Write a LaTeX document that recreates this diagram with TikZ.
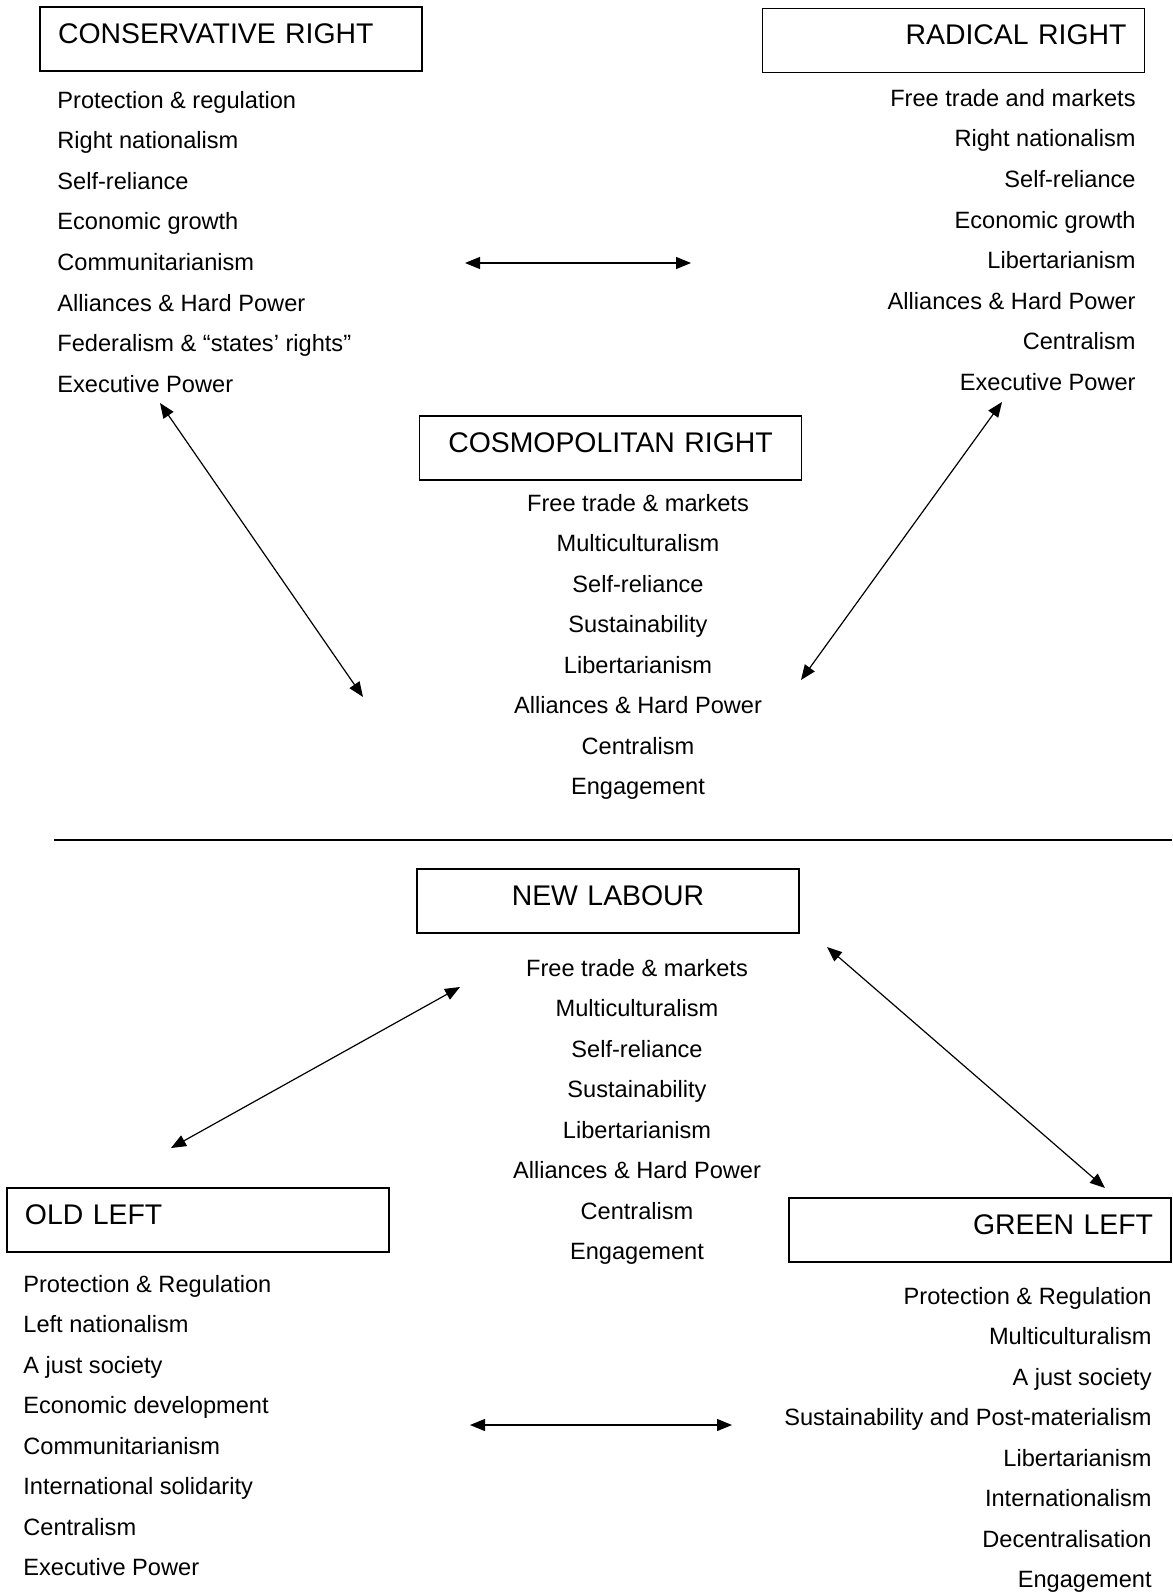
\documentclass[tikz,border=0pt]{standalone}
\usepackage{fontspec}
\setmainfont{Liberation Sans}
\usetikzlibrary{arrows.meta}
\tikzset{
  partybox/.style={draw, line width=0.75pt, minimum width=191pt, minimum height=32pt, inner xsep=9pt, text width=173pt, text height=10pt, text depth=5.5pt, font=\fontsize{14.2}{17}\selectfont},
  item/.style={inner sep=0pt, font=\fontsize{11.8}{14}\selectfont},
  link/.style={line width=0.6pt, >={Triangle[length=7.5pt,width=6pt]}, <->}
}

\begin{document}
\begin{tikzpicture}[x=0.5pt,y=-0.5pt]
        \useasboundingbox (0,0) rectangle (1172,1594);

        % boxes, top half
        \node[partybox, align=left] (cr) at (231,39) {CONSERVATIVE RIGHT};
        \node[partybox, align=right] (rr) at (953.5,40.5) {RADICAL RIGHT};
        \node[partybox, align=center] (cosmo) at (610.5,448) {COSMOPOLITAN RIGHT};

        % boxes, bottom half
        \node[partybox, align=center] (nl) at (608,901) {NEW LABOUR};
        \node[partybox, align=left] (ol) at (198,1220) {OLD LEFT};
        \node[partybox, align=right] (gl) at (980,1230) {GREEN LEFT};

        % lists
        \foreach \t [count=\i from 0] in {Protection \& regulation, Right nationalism, Self-reliance, Economic growth, Communitarianism, Alliances \& Hard Power, Federalism \& “states’ rights”, Executive Power}
            \node[item, anchor=base west] (cr\i) at (57, 108.5+40.5*\i) {\t};
        \foreach \t [count=\i from 0] in {Free trade and markets, Right nationalism, Self-reliance, Economic growth, Libertarianism, Alliances \& Hard Power, Centralism, Executive Power}
            \node[item, anchor=base east] (rr\i) at (1136, 106.5+40.5*\i) {\t};
        \foreach \t [count=\i from 0] in {Free trade \& markets, Multiculturalism, Self-reliance, Sustainability, Libertarianism, Alliances \& Hard Power, Centralism, Engagement}
            \node[item, anchor=base] (cosmo\i) at (638, 511+40.5*\i) {\t};
        \foreach \t [count=\i from 0] in {Free trade \& markets, Multiculturalism, Self-reliance, Sustainability, Libertarianism, Alliances \& Hard Power, Centralism, Engagement}
            \node[item, anchor=base] (nl\i) at (637, 976+40.5*\i) {\t};
        \foreach \t [count=\i from 0] in {Protection \& Regulation, Left nationalism, A just society, Economic development, Communitarianism, International solidarity, Centralism, Executive Power}
            \node[item, anchor=base west] (ol\i) at (23, 1292+40.5*\i) {\t};
        \foreach \t [count=\i from 0] in {Protection \& Regulation, Multiculturalism, A just society, Sustainability and Post-materialism, Libertarianism, Internationalism, Decentralisation, Engagement}
            \node[item, anchor=base east] (gl\i) at (1152, 1304+40.5*\i) {\t};

        % arrow ends
        \coordinate (crR) at (465,263);
        \coordinate (rrL) at (691,263);
        \coordinate (crD) at (160,403);
        \coordinate (cosmoL) at (363,697);
        \coordinate (rrD) at (1002,402);
        \coordinate (cosmoR) at (801,680);
        \coordinate (nlL) at (460,987);
        \coordinate (olU) at (171,1148);
        \coordinate (nlR) at (827,947);
        \coordinate (glU) at (1105,1188);
        \coordinate (olR) at (470,1425);
        \coordinate (glL) at (732,1425);
        \coordinate (splitL) at (54,840);
        \coordinate (splitR) at (1172,840);

        % arrows
        \draw[link] (crR) -- (rrL);
        \draw[link] (crD) -- (cosmoL);
        \draw[link] (rrD) -- (cosmoR);
        \draw[link] (nlL) -- (olU);
        \draw[link] (nlR) -- (glU);
        \draw[link] (olR) -- (glL);

        % divider
        \draw[line width=0.75pt] (splitL) -- (splitR);
    \end{tikzpicture}
\end{document}
